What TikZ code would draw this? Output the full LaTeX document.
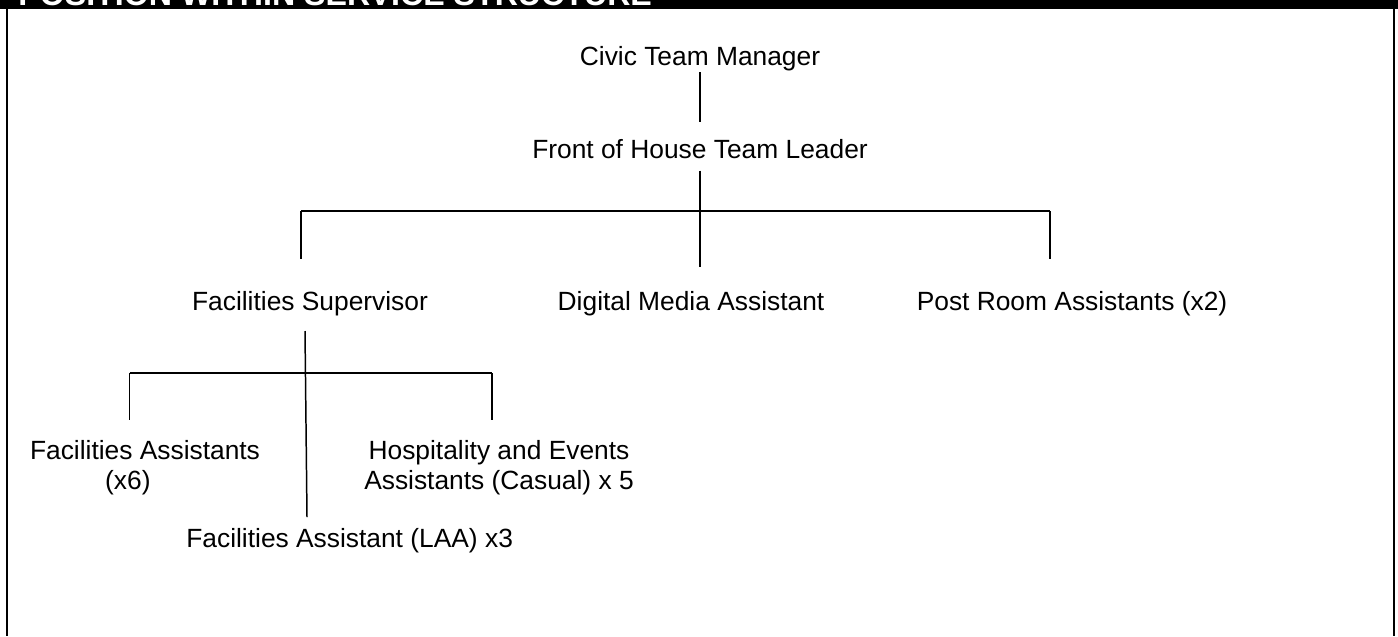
\documentclass[tikz,border=0pt]{standalone}
\usepackage{fontspec}
\setmainfont{Liberation Sans}
\begin{document}
\begin{tikzpicture}[x=0.02cm, y=-0.02cm,
        role/.style={inner sep=0pt, font=\fontsize{15}{17.3}\selectfont, align=center},
        link/.style={line width=0.85pt}]

            % the frame
            \useasboundingbox (0,0) rectangle (1398,636);
            \path[clip] (0,0) rectangle (1398,636);
            \fill[black] (0,0) rectangle (1398,9);
            \node[anchor=base west, inner sep=0pt, text=white, font=\fontsize{18.3}{20}\selectfont\bfseries] (title) at (18,5.5) {POSITION WITHIN SERVICE STRUCTURE};
            \draw[line width=1.1pt] (6.8,0) -- (6.8,636);
            \draw[line width=1.3pt] (1393.8,0) -- (1393.8,636);

            % the roles
            \node[role, anchor=base] (civic) at (700,65) {Civic Team Manager};
            \node[role, anchor=base] (foh) at (700,158) {Front of House Team Leader};
            \node[role, anchor=base] (super) at (310,310) {Facilities Supervisor};
            \node[role, anchor=base] (media) at (691,310) {Digital Media Assistant};
            \node[role, anchor=base] (post) at (1072,310) {Post Room Assistants (x2)};
            \node[role, anchor=north] (assist) at (145,440) {Facilities Assistants\\(x6)\hspace*{1.3em}};
            \node[role, anchor=north] (hosp) at (499,440) {Hospitality and Events\\Assistants (Casual) x 5};
            \node[role, anchor=base west] (laa) at (186,547) {Facilities Assistant (LAA) x3};

            % junctions
            \coordinate (bar1l) at (301,211);
            \coordinate (bar1r) at (1050,211);
            \coordinate (bar2l) at (129.5,373);
            \coordinate (bar2r) at (492,373);
            \coordinate (subtop) at (305,331);
            \coordinate (subfoot) at (307,517);

            % the links
            \draw[link, shorten <=0.03cm, shorten >=0.33cm] (civic.south) -- (foh.north);
            \draw[link, shorten <=0.24cm, shorten >=0.47cm] (foh.south) -- (foh.south |- media.north);
            \draw[link] (bar1l) -- (bar1r);
            \draw[link, shorten >=0.63cm] (bar1l) -- (bar1l |- super.north);
            \draw[link, shorten >=0.63cm] (bar1r) -- (bar1r |- post.north);
            \draw[link] (subtop) -- (subfoot);
            \draw[link] (bar2l) -- (bar2r);
            \draw[link, shorten >=0.4cm] (bar2l) -- (bar2l |- assist.north);
            \draw[link, shorten >=0.4cm] (bar2r) -- (bar2r |- hosp.north);
        \end{tikzpicture}
\end{document}
